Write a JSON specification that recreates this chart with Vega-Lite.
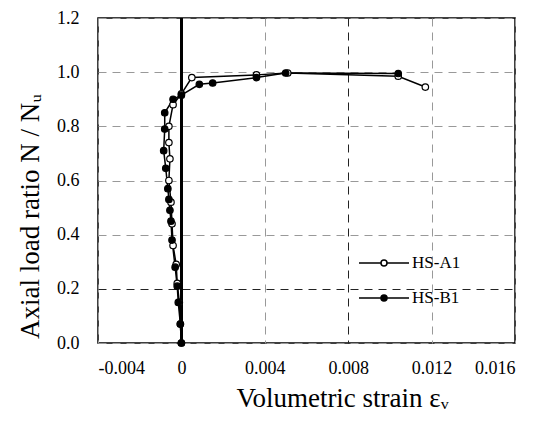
{
  "$schema": "https://vega.github.io/schema/vega-lite/v6.json",
  "autosize": "none",
  "width": 417,
  "height": 325,
  "padding": {"left": 98, "top": 18, "right": 30, "bottom": 83},
  "background": "white",
  "config": {
    "font": "Liberation Serif",
    "view": {"stroke": "black", "strokeWidth": 1.5},
    "style": {
      "guide-label": {"font": "Liberation Serif"},
      "guide-title": {"font": "Liberation Serif"}
    },
    "axis": {
      "labelFont": "Liberation Serif",
      "titleFont": "Liberation Serif",
      "labelFontSize": 18,
      "titleFontSize": 27,
      "titleFontWeight": "normal",
      "labelColor": "black",
      "titleColor": "black",
      "ticks": false,
      "domain": false,
      "gridDash": [8, 6],
      "gridWidth": 1
    },
    "legend": {"labelFont": "Liberation Serif"}
  },
  "data": {
    "values": [
      {"series": "HS-A1", "i": 0, "strain": 0, "ratio": 0},
      {"series": "HS-A1", "i": 1, "strain": -0.00005, "ratio": 0.07},
      {"series": "HS-A1", "i": 2, "strain": -0.0001, "ratio": 0.15},
      {"series": "HS-A1", "i": 3, "strain": -0.0002, "ratio": 0.22},
      {"series": "HS-A1", "i": 4, "strain": -0.00025, "ratio": 0.29},
      {"series": "HS-A1", "i": 5, "strain": -0.0004, "ratio": 0.36},
      {"series": "HS-A1", "i": 6, "strain": -0.00045, "ratio": 0.44},
      {"series": "HS-A1", "i": 7, "strain": -0.0005, "ratio": 0.52},
      {"series": "HS-A1", "i": 8, "strain": -0.0006, "ratio": 0.6},
      {"series": "HS-A1", "i": 9, "strain": -0.00055, "ratio": 0.68},
      {"series": "HS-A1", "i": 10, "strain": -0.0006, "ratio": 0.74},
      {"series": "HS-A1", "i": 11, "strain": -0.0006, "ratio": 0.8},
      {"series": "HS-A1", "i": 12, "strain": -0.0004, "ratio": 0.88},
      {"series": "HS-A1", "i": 13, "strain": 0, "ratio": 0.92},
      {"series": "HS-A1", "i": 14, "strain": 0.0005, "ratio": 0.98},
      {"series": "HS-A1", "i": 15, "strain": 0.0036, "ratio": 0.99},
      {"series": "HS-A1", "i": 16, "strain": 0.0051, "ratio": 0.997},
      {"series": "HS-A1", "i": 17, "strain": 0.0104, "ratio": 0.985},
      {"series": "HS-A1", "i": 18, "strain": 0.0117, "ratio": 0.945},
      {"series": "HS-B1", "i": 0, "strain": 0, "ratio": 0},
      {"series": "HS-B1", "i": 1, "strain": -0.00005, "ratio": 0.07},
      {"series": "HS-B1", "i": 2, "strain": -0.00015, "ratio": 0.15},
      {"series": "HS-B1", "i": 3, "strain": -0.0002, "ratio": 0.21},
      {"series": "HS-B1", "i": 4, "strain": -0.0003, "ratio": 0.28},
      {"series": "HS-B1", "i": 5, "strain": -0.00045, "ratio": 0.38},
      {"series": "HS-B1", "i": 6, "strain": -0.0005, "ratio": 0.45},
      {"series": "HS-B1", "i": 7, "strain": -0.00055, "ratio": 0.49},
      {"series": "HS-B1", "i": 8, "strain": -0.0006, "ratio": 0.53},
      {"series": "HS-B1", "i": 9, "strain": -0.00065, "ratio": 0.57},
      {"series": "HS-B1", "i": 10, "strain": -0.00075, "ratio": 0.645},
      {"series": "HS-B1", "i": 11, "strain": -0.00085, "ratio": 0.71},
      {"series": "HS-B1", "i": 12, "strain": -0.0008, "ratio": 0.79},
      {"series": "HS-B1", "i": 13, "strain": -0.0008, "ratio": 0.85},
      {"series": "HS-B1", "i": 14, "strain": -0.0004, "ratio": 0.9},
      {"series": "HS-B1", "i": 15, "strain": 0, "ratio": 0.915},
      {"series": "HS-B1", "i": 16, "strain": 0.00086, "ratio": 0.955},
      {"series": "HS-B1", "i": 17, "strain": 0.0015, "ratio": 0.96},
      {"series": "HS-B1", "i": 18, "strain": 0.0036, "ratio": 0.98},
      {"series": "HS-B1", "i": 19, "strain": 0.005, "ratio": 0.997},
      {"series": "HS-B1", "i": 20, "strain": 0.0104, "ratio": 0.995}
    ]
  },
  "encoding": {
    "x": {
      "field": "strain",
      "type": "quantitative",
      "scale": {"domain": [-0.004, 0.016], "nice": false, "zero": false},
      "axis": {
        "values": [-0.004, 0, 0.004, 0.008, 0.012, 0.016],
        "labelExpr": "datum.value == 0 ? '0' : (datum.value < 0 ? '-' : '') + format(abs(datum.value), '.3f')",
        "labelFont": "Liberation Serif",
        "labelPadding": 16,
        "title": "Volumetric strain εᵥ",
        "titleFont": "Liberation Serif",
        "titlePadding": 8,
        "titleX": 244,
        "titleAlign": "center",
        "gridColor": {"condition": {"test": "abs(datum.value - 0.008) < 1e-9", "value": "#222"}, "value": "#999"}
      }
    },
    "y": {
      "field": "ratio",
      "type": "quantitative",
      "scale": {"domain": [0, 1.2], "nice": false},
      "axis": {
        "values": [0, 0.2, 0.4, 0.6, 0.8, 1.0, 1.2],
        "format": ".1f",
        "labelFont": "Liberation Serif",
        "labelPadding": 19,
        "title": "Axial load ratio N / Nᵤ",
        "titleFont": "Liberation Serif",
        "titlePadding": 12,
        "titleY": 198,
        "titleAlign": "center",
        "gridColor": {"condition": {"test": "abs(datum.value - 0.2) < 1e-9", "value": "#222"}, "value": "#999"}
      }
    }
  },
  "layer": [
    {
      "mark": {"type": "rule", "color": "black", "strokeWidth": 2.5},
      "encoding": {"x": {"datum": 0}, "y": null}
    },
    {
      "mark": {"type": "line", "color": "black", "strokeWidth": 1.5, "interpolate": "linear"},
      "encoding": {
        "detail": {"field": "series"},
        "order": {"field": "i", "type": "quantitative"}
      }
    },
    {
      "mark": {"type": "point", "shape": "circle", "filled": true, "stroke": "black", "strokeWidth": 1.2, "size": 42, "opacity": 1},
      "encoding": {
        "fill": {
          "field": "series",
          "type": "nominal",
          "scale": {"domain": ["HS-A1", "HS-B1"], "range": ["white", "black"]},
          "legend": {
            "title": null,
            "orient": "none",
            "legendX": 275,
            "legendY": 234,
            "padding": 0,
            "symbolType": "M-2.5,0H-0.3M0.3,0H2.5M0.3,0A0.3,0.3 0 1,1 -0.3,0A0.3,0.3 0 1,1 0.3,0Z",
            "symbolSize": 400,
            "symbolStrokeColor": "black",
            "symbolStrokeWidth": 1.5,
            "labelFont": "Liberation Serif",
            "labelFontSize": 17,
            "labelOffset": 17,
            "rowPadding": 16,
            "labelColor": "black"
          }
        }
      }
    }
  ]
}
